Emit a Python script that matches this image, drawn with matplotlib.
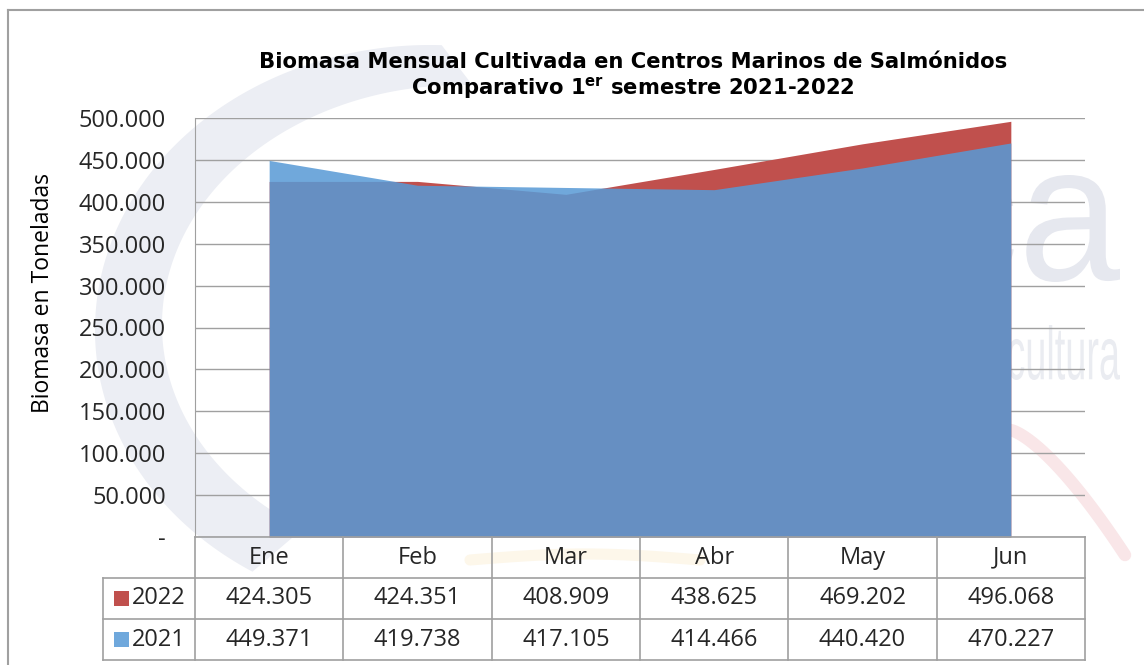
import matplotlib
matplotlib.use("Agg")
import matplotlib.pyplot as plt
import numpy as np
from matplotlib.patches import Rectangle, Polygon, PathPatch
from matplotlib.textpath import TextPath
from matplotlib.font_manager import FontProperties
from matplotlib.transforms import Affine2D
from matplotlib.ticker import FuncFormatter

months = ["Ene", "Feb", "Mar", "Abr", "May", "Jun"]
series_names = ["2022", "2021"]
v2022 = [424305, 424351, 408909, 438625, 469202, 496068]
v2021 = [449371, 419738, 417105, 414466, 440420, 470227]
yticks = [0, 50000, 100000, 150000, 200000, 250000, 300000, 350000, 400000, 450000, 500000]

RED = "#C0504D"
BLUE = (88/255, 154/255, 214/255)
BLUE_SW = "#6FA8DC"
GRID = "#A0A0A0"
TXT = "#262626"
FONT = "Open Sans"

W, H = 1144, 665
fig = plt.figure(figsize=(W/100, H/100), dpi=100)

# ---- faint background watermark (pixel coordinates, y downwards) ----
bg = fig.add_axes([0, 0, 1, 1], zorder=-10)
bg.set_xlim(0, W)
bg.set_ylim(H, 0)
bg.axis("off")
wm = "#ECEEF4"
t = np.linspace(np.radians(88), np.radians(238), 200)
outer = np.c_[430 + 335*np.cos(t), 330 - 285*np.sin(t)]
t2 = t[::-1]
inner = np.c_[462 + 300*np.cos(t2), 325 - 240*np.sin(t2)]
bg.add_patch(Polygon(np.r_[outer, inner], closed=True, facecolor=wm, edgecolor="none"))
tt = np.linspace(0, 1, 50)
bg.plot(1010 + 115*tt, 430 + 125*tt**1.4, color="#F9E6E8", lw=9, solid_capstyle="round")
bg.plot(470 + 230*tt, 560 - 6*np.sin(np.pi*tt), color="#FDF7EA", lw=8, solid_capstyle="round")


def fitted_text(s, x0, x1, y0, y1, color):
    tp = TextPath((0, 0), s, size=1, prop=FontProperties(family="Liberation Sans"))
    ext = tp.get_extents()
    sx = (x1 - x0) / ext.width
    sy = (y1 - y0) / ext.height
    tr = (Affine2D().translate(-ext.x0, -ext.y1).scale(sx, -sy).translate(x0, y0))
    bg.add_patch(PathPatch(tr.transform_path(tp), facecolor=color, edgecolor="none"))


fitted_text("ca", 935, 1120, 175, 282, "#E6E8EF")
fitted_text("cultura", 1008, 1120, 325, 380, "#EAECF1")

# ---- main chart ----
ax = fig.add_axes([195/W, 1-537/H, 890/W, 419/H])
x = np.arange(len(months)) + 0.5
ax.fill_between(x, 0, v2022, color=RED, lw=0, zorder=2)
ax.fill_between(x, 0, v2021, color=BLUE, alpha=0.86, lw=0, zorder=3)

ax.set_xlim(0, len(months))
ax.set_ylim(0, 500000)
ax.set_yticks(yticks)
ax.yaxis.set_major_formatter(FuncFormatter(
    lambda v, p: "-" if v == 0 else f"{int(v):,}".replace(",", ".")))
ax.set_xticks([])
ax.patch.set_alpha(0)
for s in ["top", "right", "bottom"]:
    ax.spines[s].set_visible(False)
ax.spines["left"].set_color(GRID)
ax.yaxis.grid(True, color=GRID, lw=1)
ax.set_axisbelow(True)
ax.tick_params(axis="y", length=0, pad=21, labelsize=17, labelcolor=TXT)
for lab in ax.get_yticklabels():
    lab.set_fontfamily(FONT)
ax.set_ylabel("Biomasa en Toneladas", fontsize=16.5, fontfamily=FONT, color="black")
ax.yaxis.set_label_coords(-(195-55)/890, (537-293)/419)

# title
plt.rcParams["mathtext.fontset"] = "dejavusans"
fig.text(633/W, 1-62/H, "Biomasa Mensual Cultivada en Centros Marinos de Salmónidos",
         fontsize=15.2, fontweight="bold", ha="center", va="center", family="DejaVu Sans")
fig.text(633/W, 1-89/H, r"Comparativo 1$^{\mathbf{er}}$ semestre 2021-2022",
         fontsize=15.2, fontweight="bold", ha="center", va="center", family="DejaVu Sans")

# ---- data table below the axes ----
rh = 41/419
lc = 92/890
n = len(months)
tk = dict(transform=ax.transAxes, clip_on=False, color=GRID, lw=1.2, zorder=5)
ax.plot([0, 1], [0, 0], **tk)
for k in (1, 2, 3):
    ax.plot([-lc, 1], [-k*rh, -k*rh], **tk)
for i in range(n + 1):
    ax.plot([i/n, i/n], [0, -3*rh], **tk)
ax.plot([-lc, -lc], [-rh, -3*rh], **tk)

fs = 17
for i, m in enumerate(months):
    ax.text((i+0.5)/n, -0.5*rh, m, transform=ax.transAxes, ha="center", va="center",
            fontsize=fs, family=FONT, color=TXT)
for r, (name, vals, col) in enumerate([(series_names[0], v2022, RED),
                                        (series_names[1], v2021, BLUE_SW)]):
    yc = -(1.5 + r)*rh
    for i, v in enumerate(vals):
        ax.text((i+0.5)/n, yc, f"{v:,}".replace(",", "."), transform=ax.transAxes,
                ha="center", va="center", fontsize=fs, family=FONT, color=TXT)
    ax.add_patch(Rectangle((-lc + 11/890, yc - 7.5/419), 15/890, 15/419,
                           transform=ax.transAxes, clip_on=False, facecolor=col,
                           edgecolor="none", zorder=5))
    ax.text(-lc + 29/890, yc, name, transform=ax.transAxes, ha="left", va="center",
            fontsize=fs, family=FONT, color=TXT)

# outer border (left and top)
fig.add_artist(plt.Line2D([8/W, 8/W], [0, 1-10/H], transform=fig.transFigure,
                          color="#A0A0A0", lw=1.5))
fig.add_artist(plt.Line2D([8/W, 1], [1-10/H, 1-10/H], transform=fig.transFigure,
                          color="#A0A0A0", lw=1.5))

fig.savefig("out.png", dpi=100)
